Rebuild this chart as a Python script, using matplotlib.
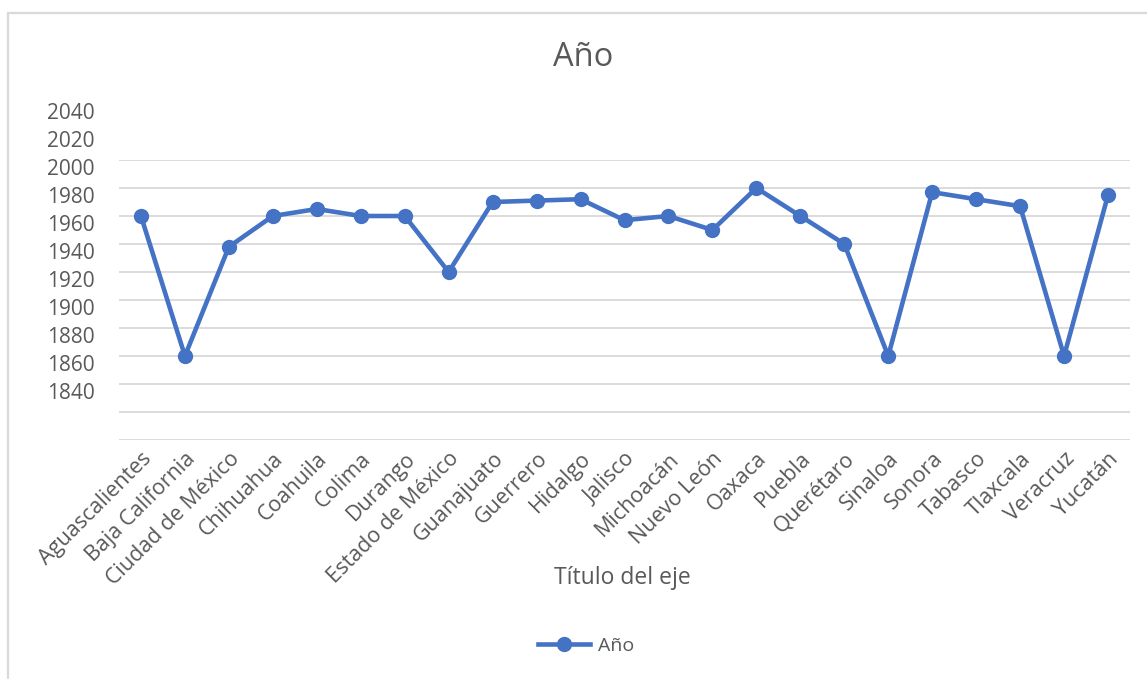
import matplotlib
matplotlib.use("Agg")
import matplotlib.pyplot as plt
import matplotlib.transforms as mtransforms
from matplotlib.lines import Line2D
from matplotlib.patches import Rectangle

plt.rcParams['font.family'] = ['Open Sans', 'DejaVu Sans']

estados = ["Aguascalientes", "Baja California", "Ciudad de México", "Chihuahua",
           "Coahuila", "Colima", "Durango", "Estado de México", "Guanajuato",
           "Guerrero", "Hidalgo", "Jalisco", "Michoacán", "Nuevo León", "Oaxaca",
           "Puebla", "Querétaro", "Sinaloa", "Sonora", "Tabasco", "Tlaxcala",
           "Veracruz", "Yucatán"]
anios = [1960, 1860, 1938, 1960, 1965, 1960, 1960, 1920, 1970, 1971, 1972,
         1957, 1960, 1950, 1980, 1960, 1940, 1860, 1977, 1972, 1967, 1860, 1975]
grid_values = list(range(1800, 2001, 20))
label_values = list(range(1840, 2041, 20))

W, H = 1147, 679
fig = plt.figure(figsize=(W / 100, H / 100), dpi=100)
fig.patch.set_facecolor("white")

# chart border (light gray frame)
fig.add_artist(Rectangle((8 / W, -0.1), 1.2, (H - 13) / H + 0.1, transform=fig.transFigure,
                         fill=False, edgecolor="#d9d9d9", linewidth=1.6))

left, right, top, bottom = 119, 1130, 160, 440
ax = fig.add_axes([left / W, 1 - bottom / H, (right - left) / W, (bottom - top) / H])

x = list(range(len(estados)))
line_color = "#4472C4"
text_color = "#595959"

ax.plot(x, anios, color=line_color, linewidth=3.3, marker="o", markersize=10,
        solid_joinstyle="round", clip_on=False, zorder=3)

ax.set_xlim(-0.5, len(estados) - 0.5)
ax.set_ylim(1800, 2000)
ax.set_yticks(grid_values)
ax.set_yticklabels([])
ax.tick_params(axis="y", length=0)
ax.grid(axis="y", color="#d9d9d9", linewidth=1.3)
ax.set_axisbelow(True)
for s in ax.spines.values():
    s.set_visible(False)

# value labels on the vertical axis
lab_trans = mtransforms.offset_copy(ax.get_yaxis_transform(), fig=fig, x=0, y=-6.5, units="points")
for v in label_values:
    ax.text(-0.024, v, str(v), transform=lab_trans, ha="right", va="center",
            fontsize=15, color=text_color, clip_on=False)

ax.set_xticks(x)
ax.set_xticklabels(estados, rotation=45, ha="right", rotation_mode="anchor",
                   fontsize=15.5, color=text_color)
ax.tick_params(axis="x", length=0, pad=6)

fig.text(583 / W, 1 - 58 / H, "Año", ha="center", va="center", fontsize=23.5, color=text_color)
fig.text(622 / W, 1 - 578 / H, "Título del eje", ha="center", va="center", fontsize=16.5,
         color=text_color)

handle = Line2D([], [], color=line_color, linewidth=3.3, marker="o", markersize=10)
fig.legend([handle], ["Año"], loc="center", bbox_to_anchor=(586 / W, 1 - 646 / H),
           frameon=False, fontsize=14, labelcolor=text_color, handlelength=2.7,
           handletextpad=0.4)

fig.savefig("out.png", dpi=100, facecolor="white")
